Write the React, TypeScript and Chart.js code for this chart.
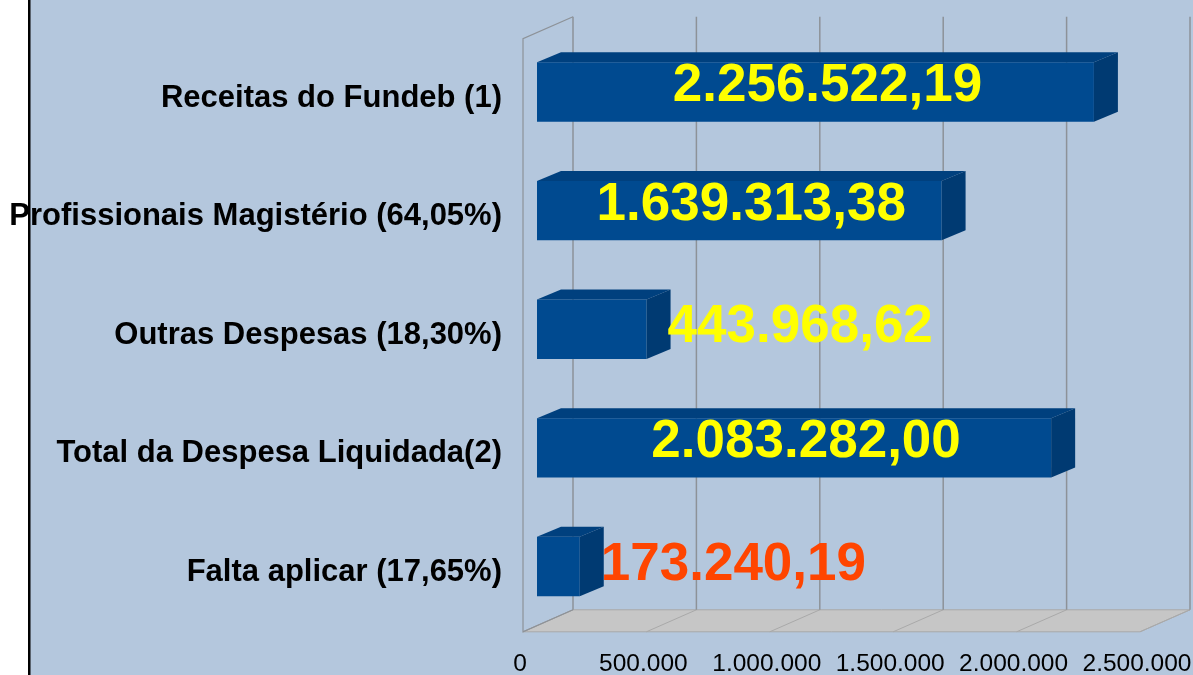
import { useEffect, useRef } from 'react';
import { Chart, registerables } from 'chart.js';

Chart.register(...registerables);

const categories = [
  'Receitas do Fundeb (1)',
  'Profissionais Magistério (64,05%)',
  'Outras Despesas (18,30%)',
  'Total da Despesa Liquidada(2)',
  'Falta aplicar (17,65%)',
];
const values = [2256522.19, 1639313.38, 443968.62, 2083282.0, 173240.19];
const valueLabels = ['2.256.522,19', '1.639.313,38', '443.968,62', '2.083.282,00', '173.240,19'];
const valueLabelColors = ['#FFFF00', '#FFFF00', '#FFFF00', '#FFFF00', '#FF4500'];
const xTickValues = [0, 500000, 1000000, 1500000, 2000000, 2500000];
const xTickLabels = ['0', '500.000', '1.000.000', '1.500.000', '2.000.000', '2.500.000'];

const FONT = '"Liberation Sans", Arial, Helvetica, sans-serif';
const BG = '#B4C7DD';
const BAR_FRONT = '#004A90';
const BAR_TOP = '#00407E';
const BAR_SIDE = '#003A72';
const GRID = '#8D9298';
const FLOOR = '#C6C6C6';
const FLOOR_LINE = '#A9A9A9';

// 3D geometry (pixels)
const FRONT = { dx: -14, dy: 6 };
const BACK = { dx: 36, dy: -16 };
const BAR_DEPTH = { dx: 24, dy: -10 };

const threeD = {
  id: 'threeD',
  beforeDraw(chart: any) {
    const { ctx, width, height } = chart;
    ctx.save();
    ctx.fillStyle = '#FFFFFF';
    ctx.fillRect(0, 0, width, height);
    ctx.fillStyle = BG;
    ctx.fillRect(30, 0, width - 30, height);
    ctx.fillStyle = '#000000';
    ctx.fillRect(28, 0, 2.5, height);
    ctx.restore();
  },
  beforeDatasetsDraw(chart: any) {
    const { ctx, chartArea } = chart;
    const xs = chart.scales.x;
    const top = chartArea.top;
    const bottom = chartArea.bottom;
    const p0 = xs.getPixelForValue(xTickValues[0]);
    const pN = xs.getPixelForValue(xTickValues[xTickValues.length - 1]);
    ctx.save();
    // floor
    ctx.beginPath();
    ctx.moveTo(p0 + FRONT.dx, bottom + FRONT.dy);
    ctx.lineTo(pN + FRONT.dx, bottom + FRONT.dy);
    ctx.lineTo(pN + BACK.dx, bottom + BACK.dy);
    ctx.lineTo(p0 + BACK.dx, bottom + BACK.dy);
    ctx.closePath();
    ctx.fillStyle = FLOOR;
    ctx.fill();
    ctx.lineWidth = 1;
    ctx.strokeStyle = FLOOR_LINE;
    ctx.stroke();
    // floor diagonals
    xTickValues.forEach((v) => {
      const p = xs.getPixelForValue(v);
      ctx.beginPath();
      ctx.moveTo(p + FRONT.dx, bottom + FRONT.dy);
      ctx.lineTo(p + BACK.dx, bottom + BACK.dy);
      ctx.strokeStyle = FLOOR_LINE;
      ctx.lineWidth = 1;
      ctx.stroke();
    });
    // back wall gridlines
    ctx.strokeStyle = GRID;
    ctx.lineWidth = 1.5;
    xTickValues.forEach((v) => {
      const p = xs.getPixelForValue(v) + BACK.dx;
      ctx.beginPath();
      ctx.moveTo(p, top + BACK.dy);
      ctx.lineTo(p, bottom + BACK.dy);
      ctx.stroke();
    });
    // left wall
    ctx.lineWidth = 1.2;
    ctx.beginPath();
    ctx.moveTo(p0 + BACK.dx, top + BACK.dy);
    ctx.lineTo(p0 + FRONT.dx, top + FRONT.dy);
    ctx.lineTo(p0 + FRONT.dx, bottom + FRONT.dy);
    ctx.lineTo(p0 + BACK.dx, bottom + BACK.dy);
    ctx.stroke();
    ctx.restore();
  },
  afterDatasetsDraw(chart: any) {
    const { ctx } = chart;
    const meta = chart.getDatasetMeta(0);
    ctx.save();
    meta.data.forEach((el: any) => {
      const { x, y, base, height } = el.getProps(['x', 'y', 'base', 'height'], true);
      const t = y - height / 2;
      const b = y + height / 2;
      // top face
      ctx.beginPath();
      ctx.moveTo(base, t);
      ctx.lineTo(base + BAR_DEPTH.dx, t + BAR_DEPTH.dy);
      ctx.lineTo(x + BAR_DEPTH.dx, t + BAR_DEPTH.dy);
      ctx.lineTo(x, t);
      ctx.closePath();
      ctx.fillStyle = BAR_TOP;
      ctx.fill();
      // side face
      ctx.beginPath();
      ctx.moveTo(x, t);
      ctx.lineTo(x + BAR_DEPTH.dx, t + BAR_DEPTH.dy);
      ctx.lineTo(x + BAR_DEPTH.dx, b + BAR_DEPTH.dy);
      ctx.lineTo(x, b);
      ctx.closePath();
      ctx.fillStyle = BAR_SIDE;
      ctx.fill();
    });
    // value labels
    ctx.font = `bold 53px ${FONT}`;
    ctx.textBaseline = 'middle';
    ctx.textAlign = 'center';
    meta.data.forEach((el: any, i: number) => {
      const { x, y, base } = el.getProps(['x', 'y', 'base'], true);
      const text = valueLabels[i];
      const w = ctx.measureText(text).width;
      let cx: number;
      let cy: number;
      if (w <= x - base) {
        cx = (x + base) / 2 + 12;
        cy = y - 5.5;
      } else {
        cx = x + 21 + w / 2;
        cy = y - 1.5;
      }
      ctx.fillStyle = valueLabelColors[i];
      ctx.fillText(text, cx, cy);
    });
    ctx.restore();
  },
};

export default function App() {
  const canvasRef = useRef<HTMLCanvasElement | null>(null);

  useEffect(() => {
    if (!canvasRef.current) return;
    const chart = new Chart(canvasRef.current, {
      type: 'bar',
      data: {
        labels: categories,
        datasets: [
          {
            data: values,
            backgroundColor: BAR_FRONT,
            borderWidth: 0,
            categoryPercentage: 0.5,
            barPercentage: 1,
          },
        ],
      },
      options: {
        indexAxis: 'y',
        animation: false,
        responsive: true,
        maintainAspectRatio: false,
        layout: { padding: { left: 0, right: 39, top: 32.7, bottom: 0 } },
        plugins: {
          legend: { display: false },
          tooltip: { enabled: false },
          title: { display: false },
        },
        scales: {
          x: {
            type: 'linear',
            min: 0,
            max: 2500000,
            grid: { display: false, drawTicks: false },
            border: { display: false },
            afterBuildTicks: (axis: any) => {
              axis.ticks = xTickValues.map((v) => ({ value: v }));
            },
            afterFit: (axis: any) => {
              axis.height = 49.2;
              axis.paddingLeft = 0;
              axis.paddingRight = 0;
              axis.paddingTop = 0;
              axis.paddingBottom = 0;
            },
            ticks: {
              autoSkip: false,
              maxRotation: 0,
              minRotation: 0,
              padding: 23.5,
              labelOffset: -17,
              color: '#000000',
              font: { family: FONT, size: 24.5, weight: 'normal' },
              callback: (_v: any, i: number) => xTickLabels[i],
            },
          },
          y: {
            grid: { display: false, drawTicks: false },
            border: { display: false },
            afterFit: (axis: any) => {
              axis.width = 537;
              axis.paddingLeft = 0;
              axis.paddingRight = 0;
              axis.paddingTop = 0;
              axis.paddingBottom = 0;
            },
            ticks: {
              padding: 35,
              labelOffset: 6,
              color: '#000000',
              font: { family: FONT, size: 31, weight: 'bold' },
            },
          },
        },
      },
      plugins: [threeD],
    } as any);
    return () => chart.destroy();
  }, []);

  return (
    <div style={{ position: 'absolute', left: 0, top: 0, width: 1193, height: 675 }}>
      <canvas ref={canvasRef} />
    </div>
  );
}
